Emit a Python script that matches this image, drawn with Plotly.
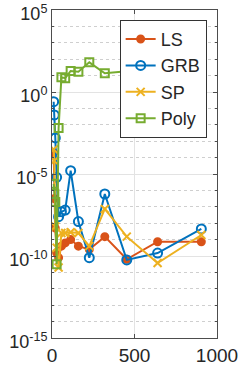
import plotly.graph_objects as go

x_vals = [10, 14, 20, 28, 40, 57, 80, 113, 160, 226, 320, 453, 640, 905]

ls_log = [-3.7, -6.5, -8.3, -9.8, -10.1, -9.4, -9.2, -9.0, -9.4, -9.6, -8.82, -10.2, -9.13, -9.13]
grb_log = [-0.59, -1.4, -2.8, -5.2, -7.6, -7.3, -7.2, -4.8, -7.9, -10.1, -6.22, -10.24, -9.82, -8.35]
sp_log = [-3.5, -4.2, -8.2, -9.5, -10.7, -8.6, -8.6, -8.55, -8.6, -9.4, -7.13, -8.82, -10.43, -8.72]
poly_log = [-5.6, -6.2, -6.7, -10.5, -2.2, 0.9, 0.84, 1.28, 1.24, 1.81, 1.14, 1.26, 1.4, 1.5]

series_names = ["LS", "GRB", "SP", "Poly"]
series_logs = [ls_log, grb_log, sp_log, poly_log]
colors = ["#D95319", "#0072BD", "#EDB120", "#77AC30"]
symbols = ["circle", "circle-open", "x-thin-open", "square-open"]
sizes = [7, 9, 8, 8]

y_tickvals = [1e-15, 1e-10, 1e-5, 1, 1e5]
y_ticktext = ["10<sup>-15</sup>", "10<sup>-10</sup>", "10<sup>-5</sup>", "10<sup>0</sup>", "10<sup>5</sup>"]
x_tickvals = [0, 500, 1000]
x_ticktext = ["0", "500", "1000"]

fig = go.Figure()
for name, logs, c, s, sz in zip(series_names, series_logs, colors, symbols, sizes):
    fig.add_trace(go.Scatter(
        x=x_vals, y=[10 ** v for v in logs], name=name, mode="lines+markers",
        line=dict(color=c, width=2),
        marker=dict(symbol=s, size=sz, color=c, line=dict(color=c, width=2)),
    ))

axcol = "#4d4d4d"
fig.update_layout(
    width=241, height=366,
    margin=dict(l=52, r=24, t=10, b=28),
    paper_bgcolor="white", plot_bgcolor="white",
    font=dict(family="Liberation Sans, Arial, sans-serif", color="#262626", size=16),
    showlegend=True,
    legend=dict(x=0.41, y=0.97, xanchor="left", yanchor="top",
                bgcolor="white", bordercolor="#333333", borderwidth=1,
                font=dict(size=18), tracegroupgap=0, itemwidth=30),
    xaxis=dict(range=[0, 1000], tickvals=x_tickvals, ticktext=x_ticktext,
               automargin=False, ticklabeloverflow="allow",
               showline=True, linecolor=axcol, linewidth=1, mirror="ticks",
               ticks="inside", ticklen=4, tickcolor=axcol,
               showgrid=True, gridcolor="#e3e3e3", gridwidth=1, zeroline=False,
               tickfont=dict(size=19)),
    yaxis=dict(type="log", range=[-15, 5], tickvals=y_tickvals, ticktext=y_ticktext,
               automargin=False, ticklabeloverflow="allow", ticklabelshift=4,
               showline=True, linecolor=axcol, linewidth=1, mirror="ticks",
               ticks="inside", ticklen=4, tickcolor=axcol,
               showgrid=True, gridcolor="#e3e3e3", gridwidth=1, zeroline=False,
               tickfont=dict(size=18),
               minor=dict(tickvals=[10.0 ** k for k in range(-15, 6) if k % 5 != 0],
                          ticks="inside", ticklen=2, tickcolor=axcol,
                          showgrid=True, gridcolor="#cfcfcf", griddash="dot", gridwidth=1)),
)

fig.write_html("out.html", config={"displayModeBar": False},
               post_script="document.body.style.margin='0';document.body.style.padding='0';")
